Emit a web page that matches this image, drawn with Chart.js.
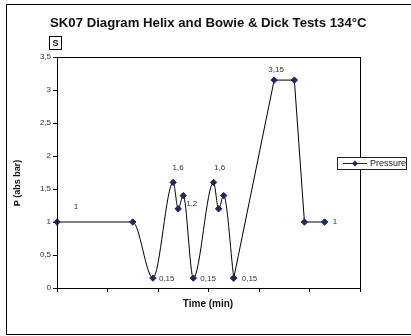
<!DOCTYPE html>
<html>
<head>
<meta charset="utf-8">
<script src="https://cdn.jsdelivr.net/npm/chart.js@4/dist/chart.umd.min.js"></script>
<style>
  html, body { margin: 0; padding: 0; background: #fff; }
  #wrap { width: 411px; height: 336px; }
</style>
</head>
<body>
<div id="wrap"><canvas id="chart" width="411" height="336"></canvas></div>
<script>
const chartTitle = 'SK07 Diagram Helix and Bowie & Dick Tests 134°C';
const seriesName = 'Pressure';
const times = [0, 7.5, 9.5, 11.5, 12, 12.5, 13.5, 15.5, 16, 16.5, 17.5, 21.5, 23.5, 24.5, 26.5];
const pressures = [1, 1, 0.15, 1.6, 1.2, 1.4, 0.15, 1.6, 1.2, 1.4, 0.15, 3.15, 3.15, 1, 1];
const labelledPoints = [0, 2, 3, 4, 6, 7, 10, 11, 14];
const yTicks = [0, 0.5, 1, 1.5, 2, 2.5, 3, 3.5];
// pulses are drawn smoothed, the hold phase with straight segments
const smoothUntil = 10;

const FONT = '"Liberation Sans", Arial, sans-serif';
const fmt = v => String(v).replace('.', ',');
const points = times.map((t, i) => ({ x: t, y: pressures[i] }));

// where each value label sits relative to its marker
const labelOffsets = {
    0: [19, -15, 'center'], 2: [6, 1, 'left'], 3: [5, -15, 'center'],
    4: [8, -5, 'left'], 6: [7, 1, 'left'], 7: [6, -15, 'center'],
    10: [8, 1, 'left'], 11: [2, -10, 'center'], 14: [8, 0, 'left']
};

const decorations = {
    id: 'decorations',
    afterDraw(chart) {
        const ctx = chart.ctx;
        const area = chart.chartArea;
        const xs = chart.scales.x, ys = chart.scales.y;
        ctx.save();

        // outer frame
        ctx.strokeStyle = '#000';
        ctx.lineWidth = 1;
        ctx.strokeRect(6.5, 4.5, 420, 330);

        // plot border
        ctx.strokeRect(Math.round(area.left) + 0.5, Math.round(area.top) + 0.5,
            Math.round(area.right - area.left), Math.round(area.bottom - area.top));

        // title
        ctx.fillStyle = '#111';
        ctx.font = 'bold 13.2px ' + FONT;
        ctx.textAlign = 'left';
        ctx.textBaseline = 'alphabetic';
        ctx.fillText(chartTitle, 50, 26.5);

        // boxed S
        ctx.strokeRect(49.5, 36.5, 12, 13);
        ctx.font = 'bold 9px ' + FONT;
        ctx.textAlign = 'center';
        ctx.textBaseline = 'middle';
        ctx.fillText('S', 55.5, 43.5);

        // axis titles
        ctx.font = 'bold 10px ' + FONT;
        ctx.fillText('Time (min)', 208, 304);
        ctx.save();
        ctx.translate(18, 183);
        ctx.rotate(-Math.PI / 2);
        ctx.font = 'bold 9px ' + FONT;
        ctx.fillText('P (abs bar)', 0, 0);
        ctx.restore();

        // value labels
        ctx.font = '8px ' + FONT;
        ctx.fillStyle = '#333';
        labelledPoints.forEach(i => {
            const px = xs.getPixelForValue(times[i]);
            const py = ys.getPixelForValue(pressures[i]);
            const [dx, dy, align] = labelOffsets[i];
            ctx.textAlign = align;
            ctx.fillText(fmt(pressures[i]), px + dx, py + dy);
        });

        // legend
        ctx.fillStyle = '#fff';
        ctx.fillRect(337, 157, 69, 12);
        ctx.strokeStyle = '#222';
        ctx.strokeRect(337.5, 157.5, 69, 12);
        ctx.beginPath();
        ctx.moveTo(343, 163.5);
        ctx.lineTo(367, 163.5);
        ctx.stroke();
        ctx.fillStyle = '#1f2a5c';
        ctx.beginPath();
        ctx.moveTo(355, 160.5);
        ctx.lineTo(358, 163.5);
        ctx.lineTo(355, 166.5);
        ctx.lineTo(352, 163.5);
        ctx.closePath();
        ctx.fill();
        ctx.fillStyle = '#222';
        ctx.font = '9px ' + FONT;
        ctx.textAlign = 'left';
        ctx.fillText(seriesName, 370, 163.5);

        ctx.restore();
    }
};

const lineStyle = {
    label: seriesName,
    borderColor: '#000',
    borderWidth: 1,
    pointStyle: 'rectRot',
    pointRadius: 3.2,
    pointBackgroundColor: '#1f2a5c',
    pointBorderColor: '#1f2a5c',
    pointBorderWidth: 1,
    clip: false
};

new Chart(document.getElementById('chart'), {
    type: 'line',
    data: {
        datasets: [
            { ...lineStyle, data: points.slice(0, smoothUntil + 1), cubicInterpolationMode: 'monotone' },
            { ...lineStyle, data: points.slice(smoothUntil), tension: 0 }
        ]
    },
    options: {
        responsive: false,
        animation: false,
        devicePixelRatio: 1,
        layout: { autoPadding: false, padding: { left: 6, top: 57, right: 51, bottom: 0 } },
        plugins: { legend: { display: false }, tooltip: { enabled: false } },
        scales: {
            x: {
                type: 'linear',
                min: 0,
                max: 30,
                ticks: { stepSize: 5, display: false },
                grid: { drawOnChartArea: false, drawTicks: true, tickLength: 4, color: '#000' },
                border: { color: '#000' },
                afterFit: s => { s.height = 48; }
            },
            y: {
                min: 0,
                max: 3.5,
                afterBuildTicks: s => { s.ticks = yTicks.map(v => ({ value: v })); },
                ticks: {
                    font: { size: 8, family: FONT },
                    color: '#333',
                    padding: 2,
                    callback: v => fmt(v)
                },
                grid: { drawOnChartArea: false, drawTicks: true, tickLength: 4, color: '#000' },
                border: { color: '#000' },
                afterFit: s => { s.width = 51; }
            }
        }
    },
    plugins: [decorations]
});
</script>
</body>
</html>
